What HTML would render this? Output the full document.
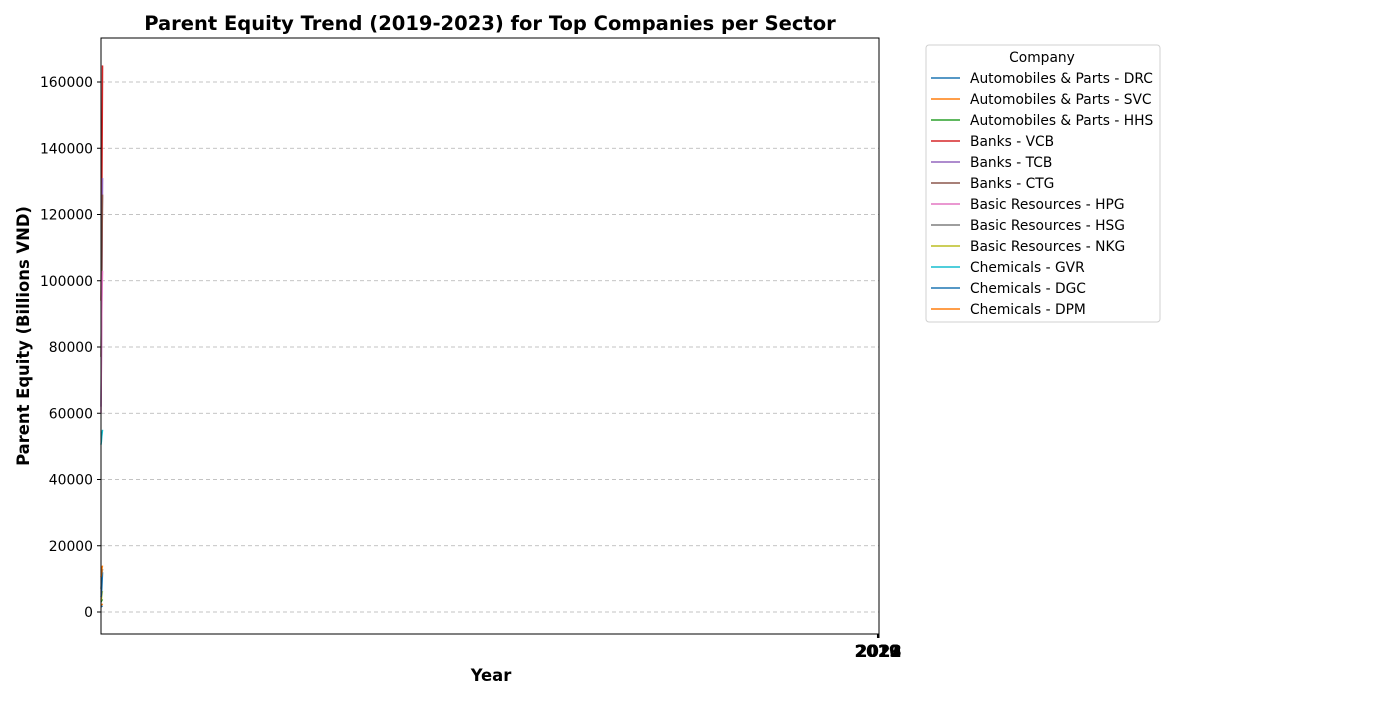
<!DOCTYPE html>
<html><head><meta charset="utf-8"><style>
body{margin:0;background:#fff;font-family:"DejaVu Sans","Liberation Sans",sans-serif}
svg text{font-family:"DejaVu Sans","Liberation Sans",sans-serif}
</style></head><body>
<svg id="c" width="1400" height="700" xmlns="http://www.w3.org/2000/svg"></svg>
<script>
const companies=["Automobiles & Parts - DRC","Automobiles & Parts - SVC","Automobiles & Parts - HHS","Banks - VCB","Banks - TCB","Banks - CTG","Basic Resources - HPG","Basic Resources - HSG","Basic Resources - NKG","Chemicals - GVR","Chemicals - DGC","Chemicals - DPM"];
const colors=["#1f77b4","#ff7f0e","#2ca02c","#d62728","#9467bd","#8c564b","#e377c2","#7f7f7f","#bcbd22","#17becf","#1f77b4","#ff7f0e"];
const xIndex=[0,1,2,3,4];
const years=[2019,2020,2021,2022,2023];
const values=[
[1500,1600,1700,1800,1900],
[2000,2100,2200,2300,2500],
[3000,3200,3500,3600,3800],
[94000,108000,122000,142000,165000],
[62000,77000,95000,114000,131000],
[77000,88000,100000,114000,126000],
[60000,74000,90000,98000,103000],
[7000,8500,11000,12000,13000],
[3500,3800,5000,6000,6300],
[50500,51500,53000,54000,55000],
[4500,5000,7000,9500,12000],
[10500,11000,12500,13500,14000]
];
const yTicks=[0,20000,40000,60000,80000,100000,120000,140000,160000];
const L=101,R=879,T=38,B=634;
const xmin=0,xmax=2023;
const ymin=-6641,ymax=173283;
const X=v=>L+(v-xmin)/(xmax-xmin)*(R-L);
const Y=v=>B-(v-ymin)/(ymax-ymin)*(B-T);
const svg=document.getElementById('c');const NS="http://www.w3.org/2000/svg";
function el(t,a,txt){const e=document.createElementNS(NS,t);for(const k in a)e.setAttribute(k,a[k]);if(txt!=null)e.textContent=txt;svg.appendChild(e);return e;}
yTicks.forEach(v=>{const y=Y(v);
const g=el('line',{x1:L,x2:R,y1:y,y2:y,stroke:'#b0b0b0','stroke-dasharray':'4,3','stroke-width':0.8});

const tk=el('line',{x1:L-4,x2:L,y1:y,y2:y,stroke:'#000'});

const t=el('text',{x:L-8,y:y+5,'text-anchor':'end','font-size':13.9},String(v));
});
values.forEach((s,i)=>{const p=el('polyline',{points:s.map((v,j)=>X(xIndex[j])+','+Y(v)).join(' '),fill:'none',stroke:colors[i],'stroke-width':1.5});
});
years.forEach(yr=>{const x=X(yr);
const tk=el('line',{x1:x,x2:x,y1:B,y2:B+4,stroke:'#000'});

const t=el('text',{x:x,y:B+23,'text-anchor':'middle','font-size':16.5,'font-weight':'bold'},String(yr));
});
const fr=el('rect',{x:L,y:T,width:R-L,height:B-T,fill:'none',stroke:'#000','stroke-width':1});

const ti=el('text',{x:490,y:30,'text-anchor':'middle','font-size':19.5,'font-weight':'bold'},'Parent Equity Trend (2019-2023) for Top Companies per Sector');

const xt=el('text',{x:491,y:681,'text-anchor':'middle','font-size':16.4,'font-weight':'bold'},'Year');

const yt=el('text',{x:29,y:336,'text-anchor':'middle','font-size':16.4,'font-weight':'bold',transform:'rotate(-90 29 336)'},'Parent Equity (Billions VND)');

const lb=el('rect',{x:926,y:45,width:234,height:277,rx:3,fill:'#fff',stroke:'#d0d0d0'});

const lt=el('text',{x:1042,y:62,'text-anchor':'middle','font-size':13.8},'Company');

companies.forEach((c,i)=>{const y=78+i*21;
const l=el('line',{x1:931,x2:960,y1:y,y2:y,stroke:colors[i],'stroke-width':1.5});

const t=el('text',{x:970,y:y+5,'font-size':13.8},c);
});
</script>
</body></html>
